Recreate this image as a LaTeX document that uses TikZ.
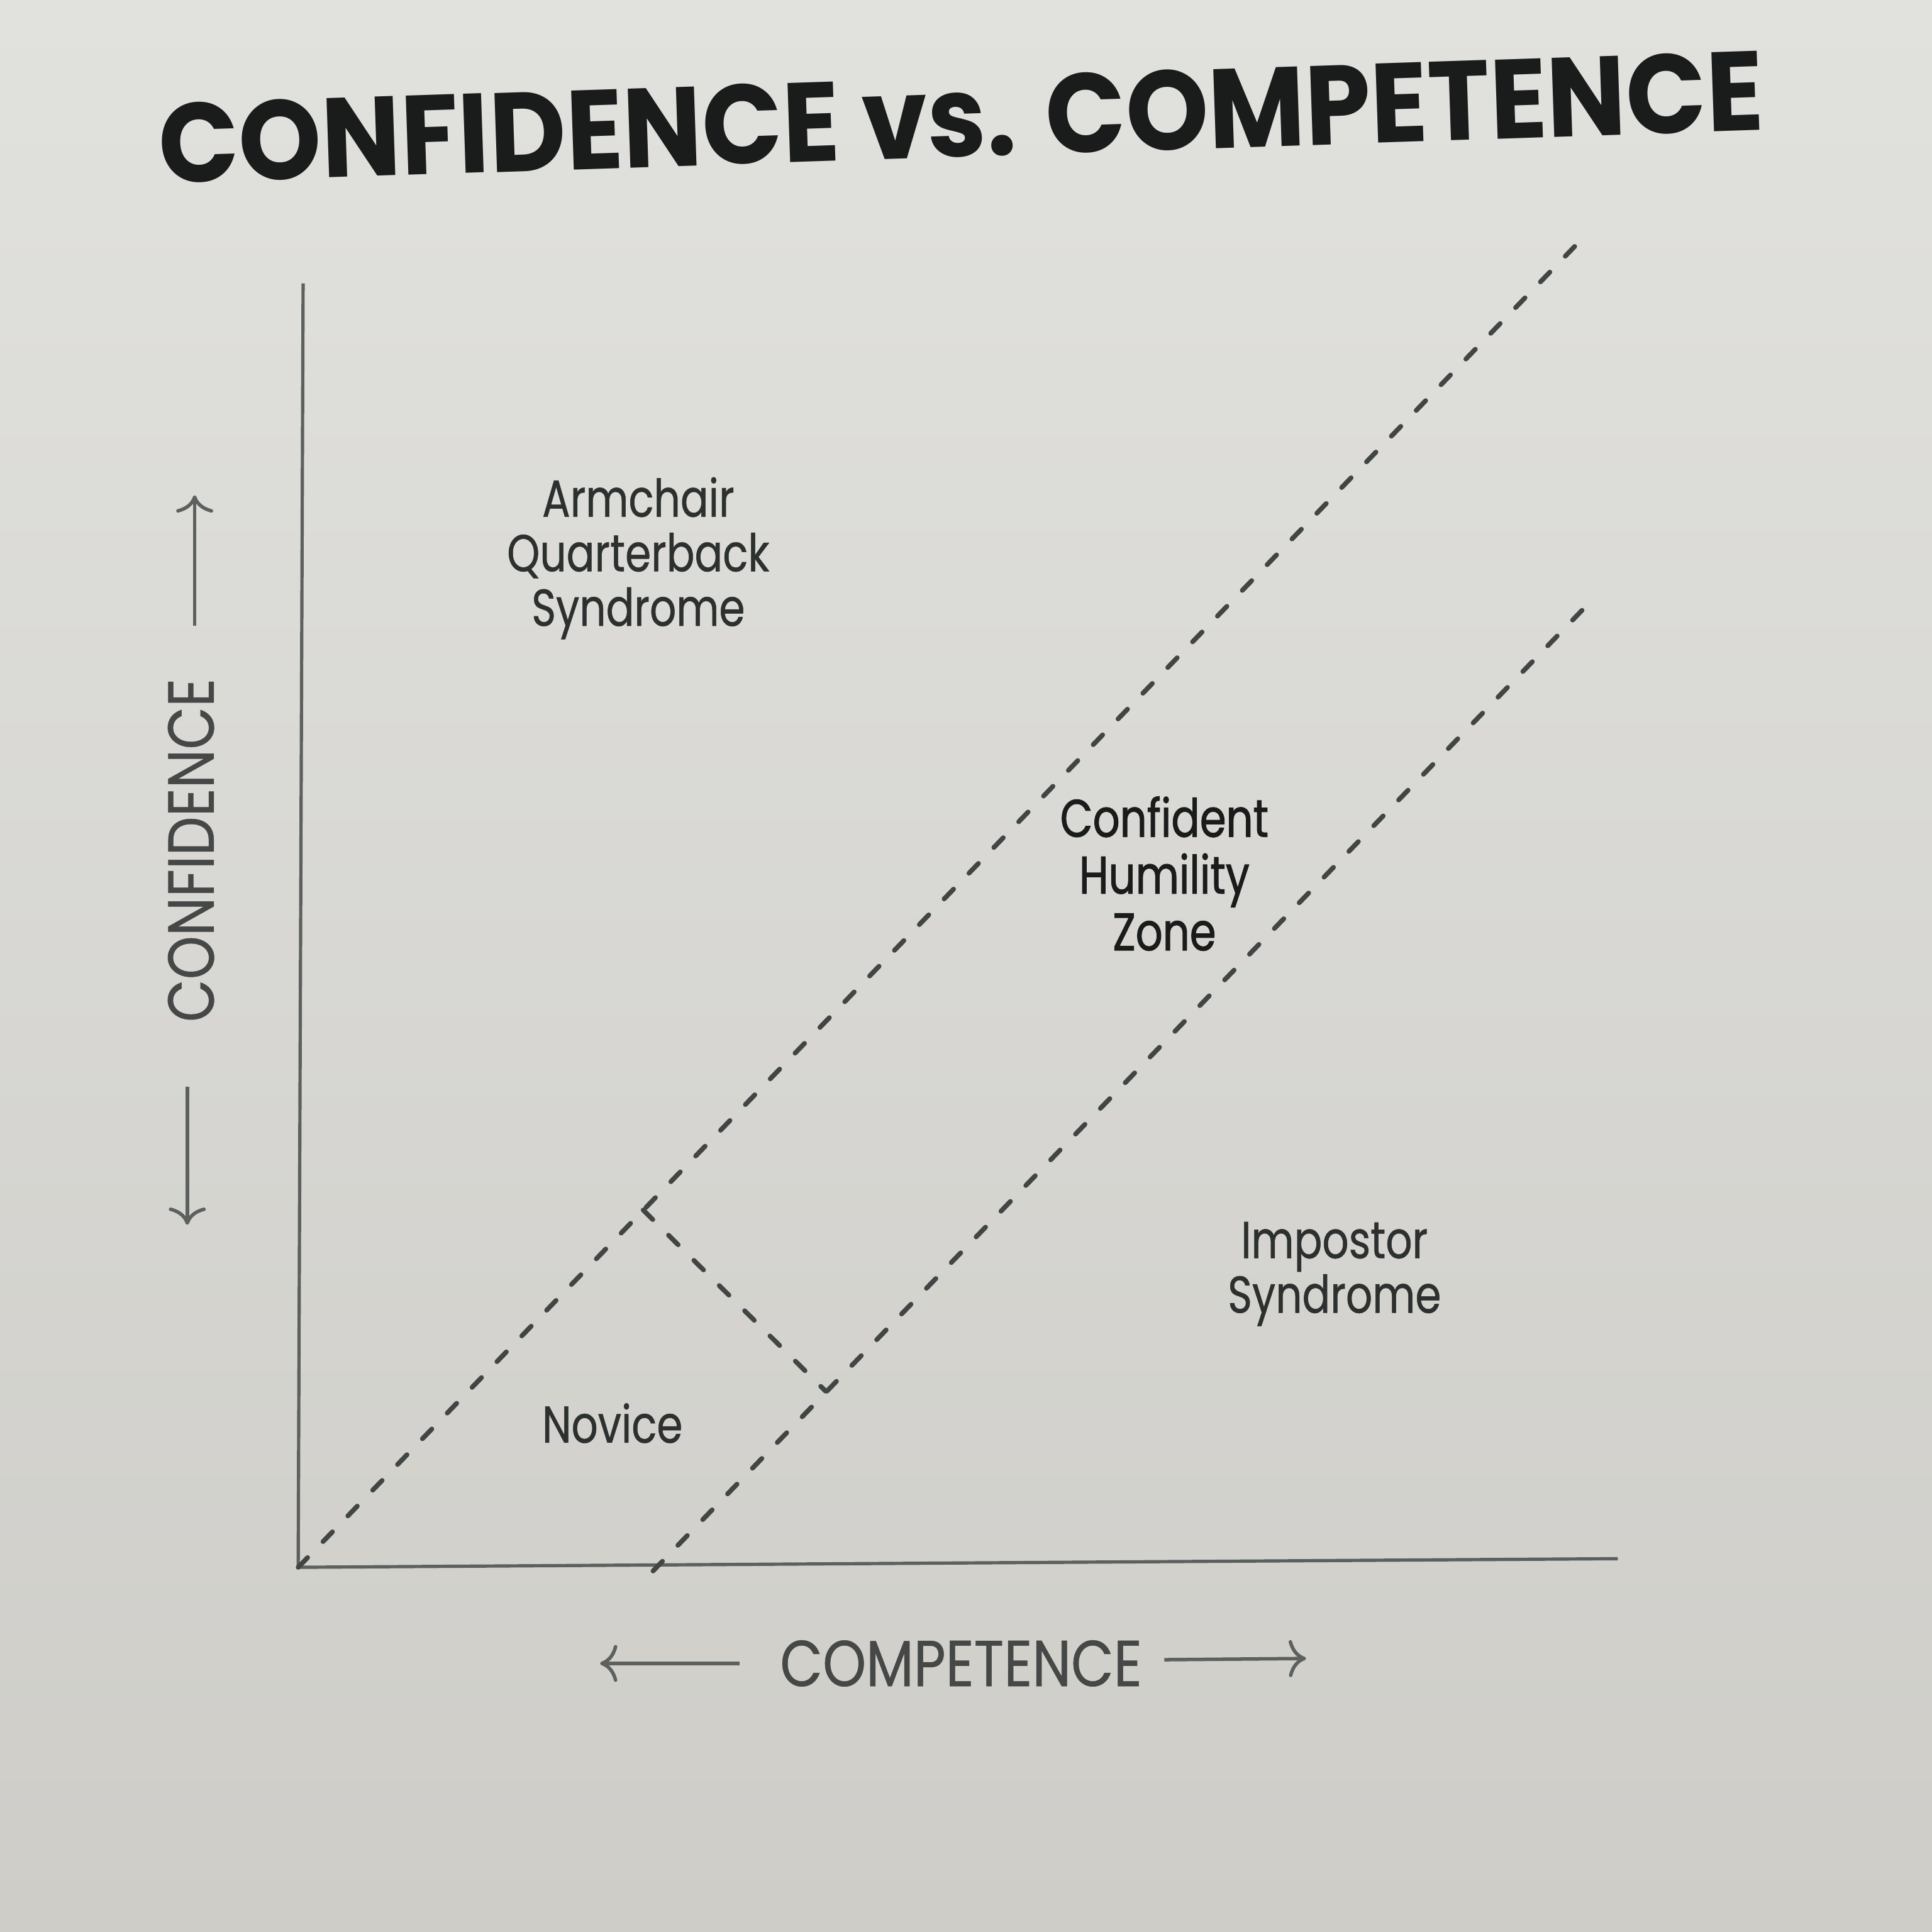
\documentclass[tikz,border=0pt]{standalone}
\usepackage{fontspec}
\setmainfont{Poppins}
\newfontfamily\titlefont[FakeStretch=0.935]{Poppins}
\newfontfamily\labelfont[FakeStretch=0.8,FakeBold=0.6]{Poppins}
\newfontfamily\keyfont[FakeStretch=0.8,FakeBold=1.2]{Poppins}
\newfontfamily\axisfont[FakeStretch=0.85,FakeBold=0.5]{Poppins}
\usetikzlibrary{arrows.meta}
\definecolor{paperlight}{RGB}{225,225,222}
\definecolor{paperdark}{RGB}{206,205,200}
\definecolor{ink}{RGB}{44,48,46}
\definecolor{inkdark}{RGB}{26,28,27}
\definecolor{axisgray}{RGB}{92,96,94}
\tikzset{
  axisline/.style={draw=axisgray, line width=0.75pt},
  dashline/.style={draw=ink!90, line width=1.1pt, line cap=round, dash pattern=on 0.11cm off 0.18cm},
  axisarrow/.style={draw=axisgray, line width=0.8pt, -{To[length=1.4mm,width=3mm]}},
  zonelabel/.style={align=center, text=ink, font=\labelfont\fontsize{12}{12.6}\selectfont, inner sep=0pt},
  keylabel/.style={align=center, text=inkdark, font=\keyfont\fontsize{12.2}{13.1}\selectfont, inner sep=0pt},
  axislabel/.style={text=axisgray!75!black, font=\axisfont\fontsize{15}{16}\selectfont, inner sep=0pt},
  titlestyle/.style={text=inkdark, font=\titlefont\bfseries\fontsize{26}{28}\selectfont, inner sep=0pt}
}
\begin{document}
\begin{tikzpicture}[x=0.01cm,y=-0.01cm]
\useasboundingbox (0,0) rectangle (1568,1568);
\shade[top color=paperlight, bottom color=paperdark] (0,0) rectangle (1568,1568);

% title
\node[titlestyle, rotate=1.9] (title) at (780,95) {CONFIDENCE vs. COMPETENCE};

% key points
\coordinate (O) at (242,1272);
\coordinate (Xend) at (1313,1265);
\coordinate (Ytop) at (246,230);
\coordinate (U) at (1278,200);
\coordinate (L0) at (530,1275);
\coordinate (L1) at (1292,487);
\coordinate (P0) at (522,982);
\coordinate (P1) at (670,1129);

% axes
\draw[axisline] (Ytop) -- (O) -- (Xend);

% dashed lines
\draw[dashline] (O) -- (U);
\draw[dashline] (L0) -- (L1);
\draw[dashline] (P0) -- (P1);

% axis labels
\node[axislabel, rotate=90] (ylab) at (155,690) {CONFIDENCE};
\coordinate (yu0) at (158,508);
\coordinate (yu1) at (158,402);
\coordinate (yd0) at (152,882);
\coordinate (yd1) at (152,994);
\draw[axisarrow] (yu0) -- (yu1);
\draw[axisarrow] (yd0) -- (yd1);

\node[axislabel] (xlab) at (780,1350) {COMPETENCE};
\coordinate (xl0) at (600,1350);
\coordinate (xl1) at (487,1350);
\coordinate (xr0) at (945,1347);
\coordinate (xr1) at (1060,1346);
\draw[axisarrow] (xl0) -- (xl1);
\draw[axisarrow] (xr0) -- (xr1);

% zone labels
\node[zonelabel] (armchair) at (518,453) {Armchair\\Quarterback\\Syndrome};
\node[keylabel] (humility) at (945,709) {Confident\\Humility\\Zone};
\node[zonelabel] (impostor) at (1083,1034) {Impostor\\Syndrome};
\node[zonelabel] (novice) at (497,1155) {Novice};
\end{tikzpicture}
\end{document}
